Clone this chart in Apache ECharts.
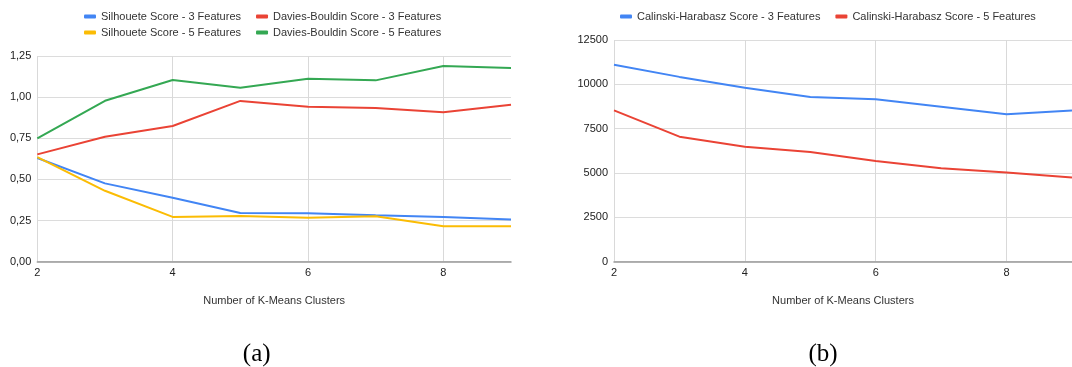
<!DOCTYPE html>
<html>
<head>
<meta charset="utf-8">
<script src="https://cdn.jsdelivr.net/npm/echarts@6/dist/echarts.min.js"></script>
<style>
  html, body { margin: 0; padding: 0; background: #fff; }
  #chart { width: 1072px; height: 367px; }
</style>
</head>
<body>
<div id="chart"></div>
<script>
// Number of K-Means clusters evaluated
const clusters = [2, 3, 4, 5, 6, 7, 8, 9];

// (a) Silhouette and Davies-Bouldin scores
const silhouette3 = [0.630, 0.476, 0.389, 0.296, 0.294, 0.282, 0.272, 0.256];
const silhouette5 = [0.636, 0.431, 0.272, 0.278, 0.267, 0.276, 0.216, 0.216];
const daviesBouldin3 = [0.652, 0.759, 0.825, 0.977, 0.942, 0.934, 0.908, 0.954];
const daviesBouldin5 = [0.750, 0.978, 1.104, 1.057, 1.112, 1.102, 1.189, 1.177];

// (b) Calinski-Harabasz scores
const calinski3 = [11100, 10420, 9813, 9289, 9159, 8742, 8313, 8520];
const calinski5 = [8530, 7050, 6486, 6187, 5679, 5267, 5030, 4745];

const seriesNames = {
  sil3: 'Silhouete Score - 3 Features',
  sil5: 'Silhouete Score - 5 Features',
  db3: 'Davies-Bouldin Score - 3 Features',
  db5: 'Davies-Bouldin Score - 5 Features',
  ch3: 'Calinski-Harabasz Score - 3 Features',
  ch5: 'Calinski-Harabasz Score - 5 Features'
};
const axisTitle = 'Number of K-Means Clusters';
const captions = ['(a)', '(b)'];

const FONT = '"Liberation Sans", Arial, sans-serif';
const COLORS = { blue: '#4285F4', red: '#EA4335', yellow: '#FBBC04', green: '#34A853' };

const pairs = (vals) => clusters.map((c, i) => [c, vals[i]]);

const lineSeries = (name, vals, color, axisIndex) => ({
  name: name,
  type: 'line',
  xAxisIndex: axisIndex,
  yAxisIndex: axisIndex,
  data: pairs(vals),
  symbol: 'none',
  smooth: false,
  color: color,
  lineStyle: { width: 2, color: color },
  emphasis: { disabled: true },
  z: 3
});

const xAxisBase = (gridIndex) => ({
  type: 'value',
  gridIndex: gridIndex,
  min: 2,
  max: 9,
  interval: 2,
  name: axisTitle,
  nameLocation: 'middle',
  nameGap: 34,
  nameTextStyle: { fontFamily: FONT, fontSize: 11, color: '#333' },
  axisLine: { show: true, onZero: false, lineStyle: { color: '#999', width: 1.5 } },
  axisTick: { show: false },
  axisLabel: { fontFamily: FONT, fontSize: 11, color: '#222', margin: 6, showMaxLabel: false },
  splitLine: { show: true, showMaxLine: false, lineStyle: { color: '#d9d9d9', width: 1 } }
});

const yAxisBase = (gridIndex, max, interval, fmt) => ({
  type: 'value',
  gridIndex: gridIndex,
  min: 0,
  max: max,
  interval: interval,
  axisLine: { show: false },
  axisTick: { show: false },
  axisLabel: { fontFamily: FONT, fontSize: 11, color: '#222', margin: 6, formatter: fmt },
  splitLine: { show: true, lineStyle: { color: '#dcdcdc', width: 1 } }
});

const legendBase = {
  icon: 'roundRect',
  itemWidth: 12,
  itemHeight: 4,
  itemGap: 15,
  padding: 0,
  orient: 'horizontal',
  selectedMode: false,
  textStyle: { fontFamily: FONT, fontSize: 11, color: '#333' }
};

const captionText = (text, x) => ({
  type: 'text', x: x, y: 354, z: 10,
  style: {
    text: text,
    font: '25px "Liberation Serif", "Times New Roman", serif',
    fill: '#000',
    align: 'center',
    verticalAlign: 'middle'
  }
});

const chart = echarts.init(document.getElementById('chart'), null, { renderer: 'canvas' });

chart.setOption({
  animation: false,
  backgroundColor: '#ffffff',
  grid: [
    { left: 37.3, top: 56, width: 473.7, height: 205.7 },
    { left: 614, top: 40, width: 464, height: 221.7 }
  ],
  legend: [
    Object.assign({}, legendBase, { left: 84, top: 11, data: [seriesNames.sil3, seriesNames.db3] }),
    Object.assign({}, legendBase, { left: 84, top: 27, data: [seriesNames.sil5, seriesNames.db5] }),
    Object.assign({}, legendBase, { left: 620, top: 11, data: [seriesNames.ch3, seriesNames.ch5] })
  ],
  xAxis: [xAxisBase(0), xAxisBase(1)],
  yAxis: [
    yAxisBase(0, 1.25, 0.25, (v) => v.toFixed(2).replace('.', ',')),
    yAxisBase(1, 12500, 2500, (v) => String(v))
  ],
  series: [
    lineSeries(seriesNames.sil3, silhouette3, COLORS.blue, 0),
    lineSeries(seriesNames.sil5, silhouette5, COLORS.yellow, 0),
    lineSeries(seriesNames.db3, daviesBouldin3, COLORS.red, 0),
    lineSeries(seriesNames.db5, daviesBouldin5, COLORS.green, 0),
    lineSeries(seriesNames.ch3, calinski3, COLORS.blue, 1),
    lineSeries(seriesNames.ch5, calinski5, COLORS.red, 1)
  ],
  graphic: [
    captionText(captions[0], 256.7),
    captionText(captions[1], 823)
  ]
});
</script>
</body>
</html>
